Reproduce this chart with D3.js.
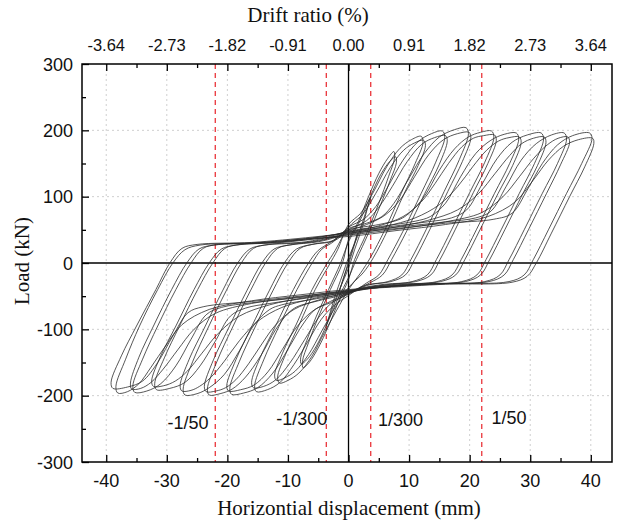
<!DOCTYPE html>
<head>
<style>
body { margin: 0; background: #fff; }
.grid line { stroke: #cfcfcf; stroke-dasharray: 2,3; stroke-width: 1px; }
.loop { fill: none; stroke: #2a2a2a; stroke-width: 0.9px; stroke-opacity: 0.88; }
.limit { stroke: #e8242b; stroke-dasharray: 5,4; stroke-width: 1.2px; }
.tick-label { font: 18px "Liberation Sans", Arial, sans-serif; fill: #111; }
.top-label { font: 16.5px "Liberation Sans", Arial, sans-serif; fill: #111; }
.title { font: 21px "Liberation Serif", "Times New Roman", serif; fill: #111; }
.note { font: 18px "Liberation Sans", Arial, sans-serif; fill: #111; }
</style>
<script src="https://d3js.org/d3.v7.min.js"></script>
</head>
<body>
<svg width="617" height="525"></svg>
<script>
// axis values
var xTicks = [-40, -30, -20, -10, 0, 10, 20, 30, 40];
var xMinor = [-35, -25, -15, -5, 5, 15, 25, 35];
var driftLabels = ["-3.64", "-2.73", "-1.82", "-0.91", "0.00", "0.91", "1.82", "2.73", "3.64"];
var yTicks = [-300, -200, -100, 0, 100, 200, 300];
var yMinor = [-250, -150, -50, 50, 150, 250];
var limitLines = [-22, -3.67, 3.67, 22];
var limitLabels = ["-1/50", "-1/300", "1/300", "1/50"];
var limitLabelX = [-26.5, -7.7, 8.6, 26.5];
var limitLabelY = [-250, -244, -245, -242];

// hysteresis loops, [displacement mm, load kN]
var loop1 = [[1.5,45],[0.8,25],[0,2],[-0.8,-22],[-1.5,-42],[-0.8,-22],[0,-2],[0.8,22]];
var loop4 = [[3.7,100],[3.2,85],[2.3,55],[1,20],[0,-8],[-1.5,-40],[-2.8,-72],[-3.7,-95],[-3.2,-80],[-2.3,-52],[-1,-18],[0,8],[1.5,40],[2.8,75]];
var loop8a = [[0,35],[1.5,60],[3.3,100],[5,135],[6.5,158],[7.5,168],[7.6,158],[6.6,130],[5,90],[3,45],[1,5],[0,-25],[-1.5,-55],[-3.3,-95],[-5,-128],[-6.5,-150],[-7.5,-158],[-7.6,-148],[-6.6,-120],[-5,-82],[-3,-40],[-1,0]];
var loop8b = [[0,32],[1.7,60],[3.6,100],[5.3,133],[6.8,153],[7.8,160],[7.9,151],[6.9,125],[5.3,88],[3.3,45],[1.3,5],[0,-22],[-1.7,-53],[-3.6,-93],[-5.3,-125],[-6.8,-145],[-7.8,-152],[-7.9,-143],[-6.9,-117],[-5.3,-80],[-3.3,-40],[-1.3,0]];
var loop12a = [[0,58],[2,75],[4,105],[6.3,145],[8.5,173],[10.4,186],[12,191],[12.3,182],[11,150],[8.7,105],[6,50],[3.6,8],[2,-15],[0,-40],[-2,-72],[-4,-105],[-6,-140],[-8.2,-166],[-10,-177],[-11.4,-181],[-11.7,-172],[-10.4,-138],[-8.1,-92],[-5.5,-40],[-3.2,-3],[-1.8,20]];
var loop12b = [[0,54],[2.3,73],[4.5,105],[6.9,144],[9.1,170],[10.9,181],[12.4,185],[12.7,177],[11.5,147],[9.2,105],[6.5,50],[4.1,8],[2.4,-15],[0,-37],[-2.4,-70],[-4.5,-104],[-6.6,-138],[-8.8,-163],[-10.5,-173],[-11.9,-177],[-12.2,-169],[-10.9,-136],[-8.6,-92],[-6,-40],[-3.7,-3],[-2.2,19]];
var loop16a = [[0,54],[2.5,66],[4.5,85],[6.5,115],[9,155],[11.5,183],[13.7,195],[15.5,199],[15.9,190],[14.4,152],[12,105],[9,48],[6.5,5],[5,-18],[3,-30],[0,-49],[-2.5,-65],[-4.5,-85],[-6.5,-115],[-9,-153],[-11.3,-180],[-13.4,-191],[-15.2,-194],[-15.5,-185],[-14,-146],[-11.5,-96],[-8.5,-40],[-6,0],[-4.5,20],[-2.5,32]];
var loop16b = [[0,50],[3,64],[5,84],[7.2,115],[9.7,153],[12.1,179],[14.2,189],[16,192],[16.3,184],[15,149],[12.6,105],[9.6,48],[7.1,5],[5.6,-18],[3.5,-30],[0,-46],[-3,-62],[-5,-83],[-7.2,-115],[-9.7,-151],[-12,-176],[-14,-186],[-15.7,-188],[-16,-180],[-14.6,-143],[-12.1,-96],[-9.1,-40],[-6.6,0],[-5,19],[-3,31]];
var loop20a = [[0,52],[3,60],[5.5,70],[7.5,90],[10,128],[12.5,165],[15,190],[17.5,201],[19.4,204],[19.8,195],[18.3,156],[15.8,108],[12.8,50],[10.3,5],[8.8,-18],[6.5,-28],[3,-34],[0,-47],[-3,-60],[-5.5,-70],[-7.5,-92],[-10,-130],[-12.5,-166],[-15,-188],[-17.3,-196],[-19.3,-198],[-19.6,-189],[-18,-148],[-15.5,-98],[-12.5,-42],[-10,0],[-8,22],[-5.5,29],[-2.5,34]];
var loop20b = [[0,48],[3,58],[6,72],[8.5,95],[10.9,130],[13.3,164],[15.7,186],[18,195],[19.9,197],[20.2,189],[18.8,153],[16.4,108],[13.4,50],[10.9,5],[9.4,-18],[7,-28],[3,-33],[0,-45],[-3,-58],[-6,-73],[-8.5,-96],[-10.9,-130],[-13.3,-164],[-15.6,-184],[-17.8,-191],[-19.8,-193],[-20.1,-185],[-18.6,-146],[-16.1,-98],[-13.1,-42],[-10.6,0],[-8.6,21],[-6,28],[-2.5,33]];
var loop24a = [[0,50],[5,58],[8.5,66],[10,75],[12.5,100],[15,140],[17.5,172],[19.8,190],[21.8,197],[23.6,199],[24,190],[22.5,152],[20,106],[17,50],[14.5,5],[13,-18],[10.5,-28],[6,-33],[2,-39],[0,-46],[-5,-57],[-8.5,-66],[-10,-76],[-12,-100],[-14.5,-140],[-17,-172],[-19.2,-190],[-21.2,-197],[-23,-199],[-23.3,-190],[-21.7,-148],[-19.2,-98],[-16.2,-42],[-13.7,0],[-11.7,22],[-9.2,28],[-5,33],[-2,41]];
var loop24b = [[0,46],[5,56],[9,70],[12,92],[14.3,120],[16.5,150],[18.7,175],[20.6,188],[22.3,192],[24.1,193],[24.4,185],[23,150],[20.6,106],[17.6,50],[15.1,5],[13.6,-18],[11.1,-28],[6,-32],[2,-38],[0,-44],[-5,-56],[-9,-70],[-12,-93],[-14.3,-122],[-16.5,-152],[-18.6,-176],[-20.3,-188],[-21.9,-193],[-23.5,-194],[-23.8,-186],[-22.3,-146],[-19.8,-98],[-16.8,-42],[-14.3,0],[-12.3,21],[-9.8,27],[-5,32],[-2,39]];
var loop28a = [[0,48],[6,56],[11,63],[13.5,70],[16,90],[18.5,130],[21,165],[23.5,185],[25.7,194],[27.7,196],[28.1,187],[26.6,150],[24.1,105],[21.1,50],[18.6,5],[17.1,-18],[14.6,-28],[8,-33],[3,-38],[0,-45],[-6,-55],[-11,-63],[-13,-70],[-15.5,-92],[-18,-132],[-20.5,-168],[-23,-188],[-25,-197],[-27,-199],[-27.3,-190],[-25.7,-148],[-23.2,-98],[-20.2,-42],[-17.7,0],[-15.7,22],[-13.2,28],[-7,32],[-3,40]];
var loop28b = [[0,44],[6,55],[11,68],[15,88],[18,115],[20.5,145],[22.8,170],[24.8,184],[26.5,189],[28.2,190],[28.5,182],[27.1,147],[24.7,105],[21.7,50],[19.2,5],[17.7,-18],[15.2,-28],[8,-32],[3,-37],[0,-43],[-6,-54],[-11,-67],[-15,-88],[-18,-117],[-20.5,-148],[-22.8,-173],[-24.6,-186],[-26,-192],[-27.5,-193],[-27.8,-185],[-26.3,-145],[-23.8,-98],[-20.8,-42],[-18.3,0],[-16.3,21],[-13.8,27],[-7,31],[-3,38]];
var loop32a = [[0,47],[7,55],[13,62],[17,68],[19.5,80],[22,118],[24.5,157],[27,182],[29.5,193],[31.8,196],[32.2,187],[30.7,150],[28.2,105],[25.2,50],[22.7,5],[21.2,-18],[18.7,-28],[11,-33],[4,-38],[0,-44],[-7,-53],[-13,-61],[-17,-68],[-19.5,-80],[-22,-118],[-24.5,-155],[-27,-180],[-29.5,-189],[-31.7,-191],[-32,-182],[-30.4,-143],[-27.9,-95],[-24.9,-40],[-22.4,0],[-20.4,22],[-17.9,28],[-11,32],[-4,40]];
var loop32b = [[0,43],[7,53],[13,64],[18,80],[21.5,105],[24.2,135],[26.6,162],[28.6,180],[30.5,188],[32.3,190],[32.6,182],[31.2,147],[28.8,105],[25.8,50],[23.3,5],[21.8,-18],[19.3,-28],[11,-32],[4,-37],[0,-42],[-7,-52],[-13,-63],[-18,-80],[-21.5,-106],[-24.2,-136],[-26.6,-163],[-28.6,-178],[-30.5,-185],[-32.2,-186],[-32.5,-178],[-31,-140],[-28.5,-95],[-25.5,-40],[-23,0],[-21,21],[-18.5,27],[-11,31],[-4,38]];
var loop36a = [[0,46],[8,54],[16,62],[21,68],[23.5,78],[26,115],[28.5,155],[31,180],[33.5,193],[35.6,196],[36,187],[34.5,150],[32,105],[29,50],[26.5,5],[25,-18],[22.5,-28],[14,-32],[5,-37],[0,-43],[-8,-52],[-16,-60],[-21,-67],[-23.5,-78],[-26,-115],[-28.5,-155],[-31,-182],[-33.3,-193],[-35.3,-195],[-35.6,-185],[-34,-145],[-31.5,-95],[-28.5,-40],[-26,0],[-24,22],[-21.5,28],[-14,31],[-5,39]];
var loop36b = [[0,42],[8,51],[16,62],[22,76],[25.5,100],[28.2,130],[30.6,158],[32.8,178],[34.6,188],[36.2,190],[36.5,182],[35,148],[32.7,105],[29.7,50],[27.2,5],[25.7,-18],[23.2,-28],[14,-31],[5,-36],[0,-41],[-8,-51],[-16,-61],[-22,-76],[-25.5,-100],[-28.2,-131],[-30.6,-160],[-32.6,-180],[-34.3,-189],[-35.8,-190],[-36,-181],[-34.6,-142],[-32.2,-95],[-29.2,-40],[-26.7,0],[-24.7,21],[-22.2,27],[-14,30],[-5,37]];
var loop40a = [[0,45],[8,52],[16,60],[24,66],[27,75],[29.5,110],[32,150],[34.5,178],[37,192],[39.8,196],[40.2,188],[38.5,150],[36,105],[33,50],[30.5,5],[29,-18],[26.5,-28],[16,-31],[6,-36],[0,-42],[-8,-50],[-16,-58],[-24,-66],[-26.5,-75],[-29,-110],[-31.5,-150],[-34,-178],[-36.5,-187],[-38.9,-189],[-39.2,-180],[-37.5,-140],[-35,-95],[-31.8,-40],[-29.5,0],[-27.5,22],[-25,28],[-16,31],[-6,39]];
var loop40b = [[0,40],[8,49],[16,58],[23,70],[27.5,92],[30.5,125],[33,155],[35.5,176],[38,186],[40.3,188],[40.5,180],[39,145],[36.5,100],[33.5,45],[31,0],[29.5,-20],[27,-29],[16,-32],[6,-37],[0,-40],[-8,-48],[-16,-57],[-23,-70],[-27.5,-93],[-30.2,-125],[-32.6,-157],[-34.6,-182],[-36.5,-194],[-38.1,-196],[-38.4,-186],[-36.8,-145],[-34.5,-95],[-31.5,-40],[-29,0],[-27,20],[-24.5,27],[-16,30],[-6,37]];

var loops = [loop1, loop4, loop8a, loop8b, loop12a, loop12b, loop16a, loop16b, loop20a, loop20b,
  loop24a, loop24b, loop28a, loop28b, loop32a, loop32b, loop36a, loop36b, loop40a, loop40b];

var svg = d3.select("svg"),
    plotLeft = 82, plotRight = 612, plotTop = 64, plotBottom = 462;

var x = d3.scaleLinear().domain([-44, 43.5]).range([plotLeft, plotRight]);
var y = d3.scaleLinear().domain([-300, 300]).range([plotBottom, plotTop]);

// grid
var grid = svg.append("g").attr("class", "grid");
grid.selectAll(".gx").data(xTicks.filter(function(d) { return d !== 0; }))
  .enter().append("line")
    .attr("x1", x).attr("x2", x).attr("y1", plotTop).attr("y2", plotBottom);
grid.selectAll(".gy").data([-200, -100, 100, 200])
  .enter().append("line")
    .attr("x1", plotLeft).attr("x2", plotRight).attr("y1", y).attr("y2", y);

// limit lines
svg.append("g").selectAll("line").data(limitLines)
  .enter().append("line")
    .attr("class", "limit")
    .attr("x1", x).attr("x2", x).attr("y1", plotTop).attr("y2", plotBottom);

// zero lines
svg.append("line").attr("x1", x(0)).attr("x2", x(0)).attr("y1", plotTop).attr("y2", plotBottom)
  .attr("stroke", "#000").attr("stroke-width", 1.3);
svg.append("line").attr("x1", plotLeft).attr("x2", plotRight).attr("y1", y(0)).attr("y2", y(0))
  .attr("stroke", "#000").attr("stroke-width", 1.3);

// loops
var line = d3.line()
    .x(function(d) { return x(d[0]); })
    .y(function(d) { return y(d[1]); })
    .curve(d3.curveCatmullRomClosed.alpha(0.5));

svg.append("g").selectAll("path").data(loops)
  .enter().append("path")
    .attr("class", "loop")
    .attr("d", line);

// axes (ticks inward)
function noDomain(g) { g.select(".domain").remove(); }
svg.append("g")
    .attr("transform", "translate(0," + plotBottom + ")")
    .call(d3.axisBottom(x).tickValues(xTicks).tickSize(-7).tickFormat(""))
    .call(noDomain);
svg.append("g")
    .attr("transform", "translate(0," + plotBottom + ")")
    .call(d3.axisBottom(x).tickValues(xMinor).tickSize(-4).tickFormat(""))
    .call(noDomain);
svg.append("g")
    .attr("transform", "translate(0," + plotTop + ")")
    .call(d3.axisTop(x).tickValues(xTicks).tickSize(-7).tickFormat(""))
    .call(noDomain);
svg.append("g")
    .attr("transform", "translate(0," + plotTop + ")")
    .call(d3.axisTop(x).tickValues(xMinor).tickSize(-4).tickFormat(""))
    .call(noDomain);
svg.append("g")
    .attr("transform", "translate(" + plotLeft + ",0)")
    .call(d3.axisLeft(y).tickValues(yTicks).tickSize(-7).tickFormat(""))
    .call(noDomain);
svg.append("g")
    .attr("transform", "translate(" + plotLeft + ",0)")
    .call(d3.axisLeft(y).tickValues(yMinor).tickSize(-4).tickFormat(""))
    .call(noDomain);
svg.selectAll(".tick line").attr("stroke", "#000").attr("stroke-width", 1.3);

// frame
svg.append("rect")
    .attr("x", plotLeft).attr("y", plotTop)
    .attr("width", plotRight - plotLeft).attr("height", plotBottom - plotTop)
    .attr("fill", "none").attr("stroke", "#000").attr("stroke-width", 1.5);

// tick labels
svg.append("g").selectAll("text").data(xTicks)
  .enter().append("text")
    .attr("class", "tick-label")
    .attr("x", x).attr("y", 487)
    .attr("text-anchor", "middle")
    .text(function(d) { return d; });
svg.append("g").selectAll("text").data(driftLabels)
  .enter().append("text")
    .attr("class", "top-label")
    .attr("x", function(d, i) { return x(xTicks[i]); }).attr("y", 51)
    .attr("text-anchor", "middle")
    .text(function(d) { return d; });
svg.append("g").selectAll("text").data(yTicks)
  .enter().append("text")
    .attr("class", "tick-label")
    .attr("x", 73).attr("y", function(d) { return y(d) + 6.5; })
    .attr("text-anchor", "end")
    .text(function(d) { return d; });

// limit labels
svg.append("g").selectAll("text").data(limitLabels)
  .enter().append("text")
    .attr("class", "note")
    .attr("x", function(d, i) { return x(limitLabelX[i]); })
    .attr("y", function(d, i) { return y(limitLabelY[i]); })
    .attr("text-anchor", "middle")
    .text(function(d) { return d; });

// titles
svg.append("text").attr("class", "title")
    .attr("x", 308).attr("y", 22).attr("text-anchor", "middle")
    .text("Drift ratio (%)");
svg.append("text").attr("class", "title")
    .attr("x", 349).attr("y", 515).attr("text-anchor", "middle")
    .text("Horizontial displacement (mm)");
svg.append("text").attr("class", "title")
    .attr("transform", "translate(29,261) rotate(-90)")
    .attr("text-anchor", "middle")
    .text("Load (kN)");
</script>
</body>
